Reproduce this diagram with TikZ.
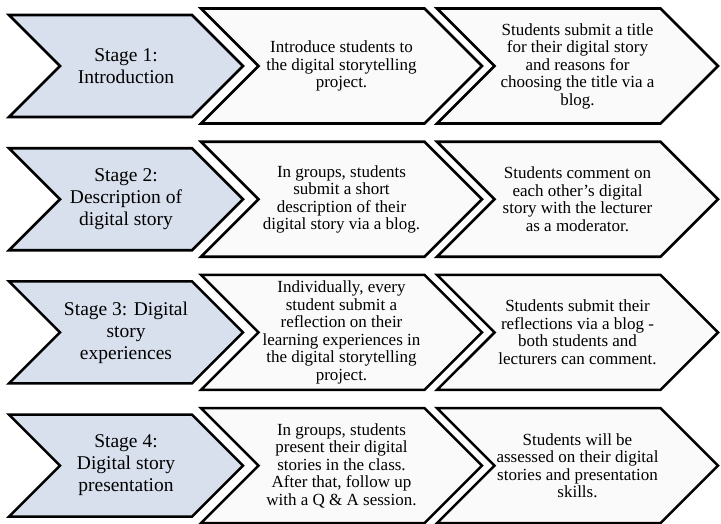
\documentclass[tikz,border=0pt]{standalone}
\usepackage{fontspec}
\setmainfont{Liberation Serif}
\usepackage{tikz}
\usetikzlibrary{shapes.symbols}
\usetikzlibrary{calc}
\definecolor{stagefill}{RGB}{216,224,238}
\definecolor{taskfill}{RGB}{250,250,250}
\tikzset{every picture/.style={line width=2.6pt}}

\begin{document}
\begin{tikzpicture}[x=1pt,y=-1pt,
arrowbox/.style={signal, signal from=west, signal to=east, signal pointer angle=90, draw=black, align=center, inner sep=0pt, miter limit=20},
stagebox/.style={arrowbox, fill=stagefill, minimum width=234pt, minimum height=102pt, font=\fontsize{19.5}{22}\selectfont},
taskbox/.style={arrowbox, fill=taskfill, minimum width=281pt, minimum height=115pt, font=\fontsize{17}{17.5}\selectfont}]
\useasboundingbox (0,0) rectangle (721,523);
\foreach \i/\s/\a/\b [evaluate=\i as \rowy using 66+(\i-1)*133.2] in {
1/{Stage 1:\\Introduction}/{Introduce students to\\the digital storytelling\\project.}/{Students submit a title\\for their digital story\\and reasons for\\choosing the title via a\\blog.},
2/{Stage 2:\\Description of\\digital story}/{In groups, students\\submit a short\\description of their\\digital story via a blog.}/{Students comment on\\each other's digital\\story with the lecturer\\as a moderator.},
3/{Stage 3: Digital\\story\\experiences}/{Individually, every\\student submit a\\reflection on their\\learning experiences in\\the digital storytelling\\project.}/{Students submit their\\reflections via a blog -\\both students and\\lecturers can comment.},
4/{Stage 4:\\Digital story\\presentation}/{In groups, students\\present their digital\\stories in the class.\\After that, follow up\\with a Q \& A session.}/{Students will be\\assessed on their digital\\stories and presentation\\skills.}} {
\node (stage\i) at (126,\rowy) [stagebox] {\s};
\node (task\i) at (341.5,\rowy) [taskbox] {\a};
\node (reply\i) at (577.5,\rowy) [taskbox] {\b};
}
\end{tikzpicture}
\end{document}
